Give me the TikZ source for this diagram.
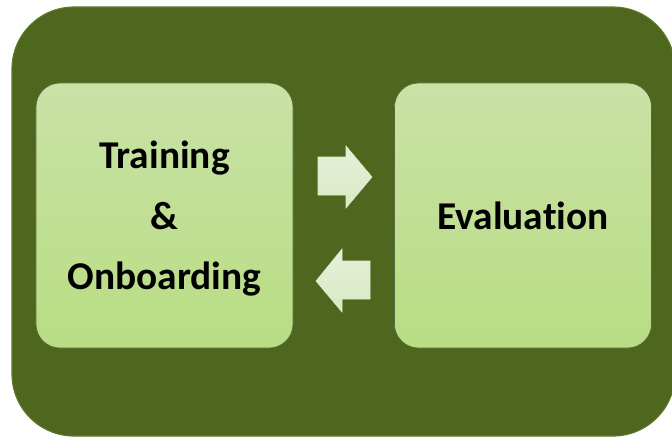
\documentclass[tikz,border=0pt]{standalone}
\usepackage{fontspec}
\setmainfont{Carlito}[Ligatures=CommonOff]
\usetikzlibrary{shadings}

\definecolor{panelgreen}{RGB}{78,102,29}
\definecolor{paneledge}{RGB}{92,122,40}
\definecolor{boxtop}{RGB}{201,226,166}
\definecolor{boxbottom}{RGB}{184,221,131}
\definecolor{boxedge}{RGB}{88,104,60}
\definecolor{arrowtop}{RGB}{230,240,218}
\definecolor{arrowbottom}{RGB}{216,233,194}

\tikzset{
  stagebox/.style={rectangle, rounded corners=0.6cm, draw=boxedge, line width=0.5pt,
    top color=boxtop, bottom color=boxbottom,
    minimum width=6.425cm, minimum height=6.625cm, align=center,
    font=\fontsize{28}{43}\selectfont\bfseries},
  blockarrow/.style={draw=arrowbottom!80!white, line width=0.4pt,
    top color=arrowtop, bottom color=arrowbottom}
}

\begin{document}
\begin{tikzpicture}[x=0.025cm, y=-0.025cm]
  \useasboundingbox (0,0) rectangle (672,437);

  %%%%% PANEL %%%%%
  \draw[fill=panelgreen, draw=paneledge, line width=0.8pt, rounded corners=1.55cm]
    (12,7) rectangle (675,436);

  %%%%% STAGES %%%%%
  \node[stagebox, text depth=0pt] (training) at (164.5,215.5) {Training\\\&\\Onboarding};
  \node[stagebox] (evaluation) at (523,215.5) {Evaluation};

  %%%%% ARROWS %%%%%
  \draw[blockarrow] (318,157) -- (346,157) -- (346,146) -- (372,177)
    -- (346,208) -- (346,195) -- (318,195) -- cycle;
  \draw[blockarrow] (370,261) -- (342,261) -- (342,249) -- (316,281)
    -- (342,312) -- (342,299) -- (370,299) -- cycle;
\end{tikzpicture}
\end{document}
